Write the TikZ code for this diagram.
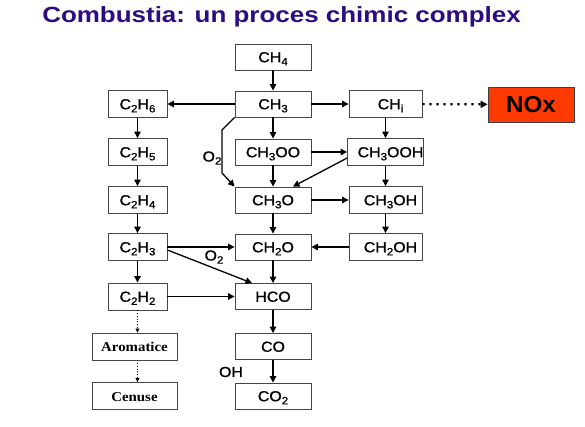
\documentclass[tikz,border=0pt]{standalone}
\usepackage{graphicx}
\usepackage{fontspec}
\setmainfont{Liberation Sans}
\newfontfamily\boxfam[FakeBold=0.9]{Liberation Sans}
\newfontfamily\timesfam{Liberation Serif}
\usetikzlibrary{arrows.meta,calc}
\definecolor{titleblue}{RGB}{44,12,128}
\definecolor{boxgray}{RGB}{70,70,70}
\definecolor{noxred}{RGB}{255,58,0}
\newcommand{\sbs}[1]{\raisebox{-0.4ex}{\fontsize{10.5}{10.5}\selectfont #1}}
\newcommand{\hwide}[1]{\scalebox{1.1}[1]{#1}}
\begin{document}
\begin{tikzpicture}[x=1pt,y=-1pt,
  box/.style={draw=boxgray, line width=0.9pt, fill=white, inner sep=0pt,
    font=\fontsize{14.5}{16}\selectfont\boxfam, text height=10.5pt, text depth=0pt},
  mbox/.style={box, minimum width=76pt, minimum height=26pt},
  lbox/.style={box, minimum width=59pt, minimum height=27pt},
  rbox/.style={box, minimum width=73pt, minimum height=27pt},
  abox/.style={box, minimum width=85pt, minimum height=27pt,
    font=\fontsize{13.5}{16}\selectfont\timesfam\bfseries},
  arr/.style={-{Triangle[length=6.5pt,width=6.5pt]}, line width=1.3pt, black},
  dotarr/.style={-{Triangle[length=4pt,width=4pt]}, line width=0.7pt, dotted, black},
  bigdot/.style={-{Triangle[length=7pt,width=7pt]}, line width=2.2pt,
    dash pattern=on 2.2pt off 4.8pt, black},
  lbl/.style={font=\fontsize{14.5}{16}\selectfont\boxfam, inner sep=0pt}
]
\useasboundingbox (0,0) rectangle (585,427);
\fill[white] (0,0) rectangle (585,427);

\node[font=\fontsize{22}{26}\selectfont\bfseries, text=titleblue, anchor=base, inner sep=0pt]
  (title) at (281.5,23) {\scalebox{1.18}[1]{Combustia: un proces chimic complex}};

% middle column
\node[mbox] (ch4)   at (273,57)  {\hwide{CH\sbs{4}}};
\node[mbox] (ch3)   at (273,104) {\hwide{CH\sbs{3}}};
\node[mbox] (ch3oo) at (273,152) {\hwide{CH\sbs{3}OO}};
\node[mbox] (ch3o)  at (273,200) {\hwide{CH\sbs{3}O}};
\node[mbox] (ch2o)  at (273,247) {\hwide{CH\sbs{2}O}};
\node[mbox] (hco)   at (273,296.5) {\hwide{HCO}};
\node[mbox] (co)    at (273,346.5) {\hwide{CO}};
\node[mbox] (co2)   at (273,396) {\hwide{CO\sbs{2}}};

% left column
\node[lbox] (c2h6) at (137.5,104) {\hwide{C\sbs{2}H\sbs{6}}};
\node[lbox] (c2h5) at (137.5,152) {\hwide{C\sbs{2}H\sbs{5}}};
\node[lbox] (c2h4) at (137.5,200) {\hwide{C\sbs{2}H\sbs{4}}};
\node[lbox] (c2h3) at (137.5,247) {\hwide{C\sbs{2}H\sbs{3}}};
\node[lbox] (c2h2) at (137.5,296.5) {\hwide{C\sbs{2}H\sbs{2}}};
\node[abox] (arom) at (134.5,346.5) {\hwide{Aromatice}};
\node[abox] (cen)  at (134.5,396) {\hwide{Cenuse}};

% right column
\node[rbox] (chi)    at (385.5,104) {\hspace*{10pt}\hwide{CH\sbs{i}}};
\node[rbox] (ch3ooh) at (385.5,152) {\hspace*{10pt}\hwide{CH\sbs{3}OOH}};
\node[rbox] (ch3oh)  at (385.5,200) {\hspace*{10pt}\hwide{CH\sbs{3}OH}};
\node[rbox] (ch2oh)  at (385.5,247) {\hspace*{10pt}\hwide{CH\sbs{2}OH}};

% NOx
\node[draw=black!75, line width=0.9pt, fill=noxred, minimum width=86pt, minimum height=35pt,
  inner sep=0pt, font=\fontsize{23}{24}\selectfont\bfseries, text height=16.5pt, text depth=0pt]
  (nox) at (531,104.5) {\scalebox{1.05}[1]{NOx}};

% middle vertical arrows
\draw[arr] (ch4) -- (ch3);
\draw[arr] (ch3) -- (ch3oo);
\draw[arr] (ch3oo) -- (ch3o);
\draw[arr] (ch3o) -- (ch2o);
\draw[arr] (ch2o) -- (hco);
\draw[arr] (hco) -- (co);
\draw[arr] (co) -- (co2);

% left vertical arrows
\draw[arr] (c2h6) -- (c2h5);
\draw[arr] (c2h5) -- (c2h4);
\draw[arr] (c2h4) -- (c2h3);
\draw[arr] (c2h3) -- (c2h2);
\draw[dotarr] (c2h2.south) -- (c2h2.south |- arom.north);
\draw[dotarr] (arom.south -| c2h2.south) -- (c2h2.south |- cen.north);

% right vertical arrows
\draw[arr] (chi) -- (ch3ooh);
\draw[arr] (ch3ooh) -- (ch3oh);
\draw[arr] (ch3oh) -- (ch2oh);

% horizontal arrows
\draw[arr] (ch3) -- (c2h6);
\draw[arr] (ch3) -- (chi);
\draw[bigdot] (chi) -- (nox);
\draw[arr] (ch3oo) -- (ch3ooh);
\draw[arr] (ch3o) -- (ch3oh);
\draw[arr] (ch2oh) -- (ch2o);
\draw[arr] (c2h3) -- (ch2o);
\draw[arr] (c2h2) -- (hco);

% O2 bypass CH3 -> CH3O
\coordinate (b1) at (222,130);
\coordinate (b2) at (222,173);
\draw[arr] (ch3.south west) -- (b1) -- (b2) -- (ch3o.north west);
\node[lbl] (o2a) at (212,158) {\hwide{O\sbs{2}}};

% CH3OOH -> CH3O diagonal
\draw[arr] ($(ch3ooh.west)+(0,6)$) -- ($(ch3o.north)+(20,0)$);

% C2H3 -> HCO diagonal
\draw[arr] ($(c2h3.east)+(0,3)$) -- ($(hco.north)+(-21,0)$);
\node[lbl] (o2b) at (214,257) {\hwide{O\sbs{2}}};

% OH label
\node[lbl] (oh) at (231,372) {\hwide{OH}};
\end{tikzpicture}
\end{document}
